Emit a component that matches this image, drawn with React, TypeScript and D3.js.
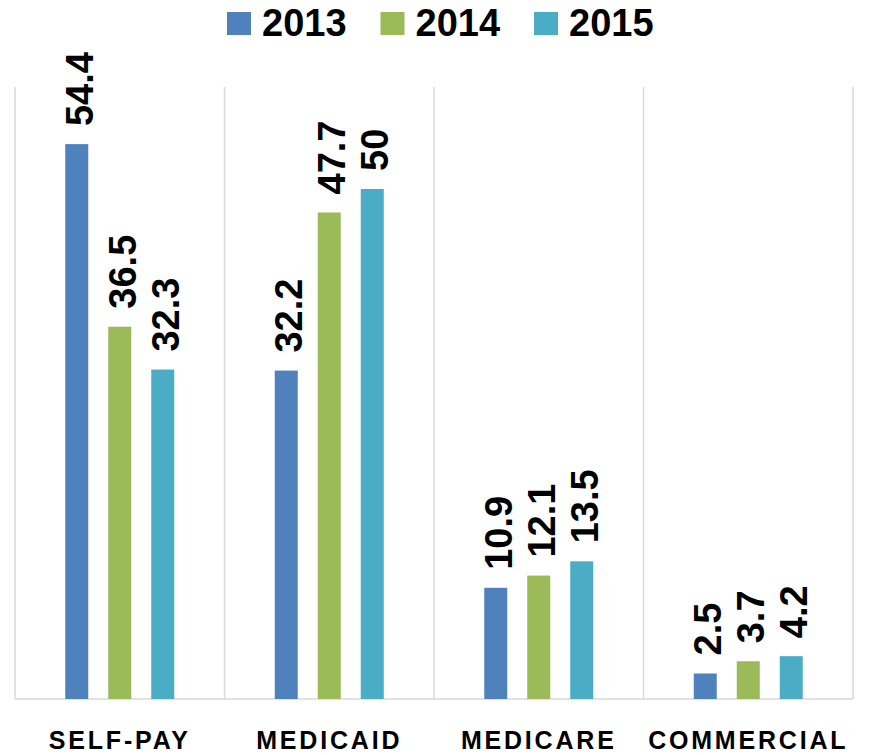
import React from "react";
import * as d3 from "d3";

const categories = ["SELF-PAY", "MEDICAID", "MEDICARE", "COMMERCIAL"];
const years = ["2013", "2014", "2015"];
const values2013 = [54.4, 32.2, 10.9, 2.5];
const values2014 = [36.5, 47.7, 12.1, 3.7];
const values2015 = [32.3, 50, 13.5, 4.2];
const colors = ["#4f81bd", "#9bbb59", "#4bacc6"];

const W = 872;
const H = 755;
const left = 15;
const right = 853;
const top = 87;
const baseline = 699;
const FONT = "'Liberation Sans', Arial, sans-serif";

export default function App() {
  const series = [values2013, values2014, values2015];
  const x0 = d3.scaleBand<string>().domain(categories).range([left, right]).padding(0);
  const x1 = d3.scalePoint<string>().domain(years).range([-43, 43]);
  const y = d3.scaleLinear().domain([0, 60]).range([baseline, top]);
  const barW = 23;
  const gridXs = [...categories.map((c) => x0(c)!), right];

  return (
    <svg width={W} height={H} style={{ position: "absolute", left: 0, top: 0, background: "#fff" }}>
      <rect x={0} y={0} width={W} height={H} fill="#fff" />
      {gridXs.map((gx, i) => (
        <line key={i} x1={gx} x2={gx} y1={top} y2={baseline} stroke="#d9d9d9" strokeWidth={1.5} />
      ))}
      <line x1={left} x2={right} y1={baseline} y2={baseline} stroke="#d9d9d9" strokeWidth={1.5} />
      {categories.map((c, ci) => {
        const center = x0(c)! + x0.bandwidth() / 2;
        return (
          <g key={c}>
            {years.map((yr, si) => {
              const v = series[si][ci];
              const cx = center + x1(yr)!;
              const yt = y(v);
              return (
                <g key={yr}>
                  <rect x={cx - barW / 2} y={yt} width={barW} height={baseline - yt} fill={colors[si]} />
                  <text
                    transform={`translate(${cx + 16},${yt - 18}) rotate(-90)`}
                    fontFamily={FONT}
                    fontWeight="bold"
                    fontSize={38}
                    fill="#000"
                  >
                    {String(v)}
                  </text>
                </g>
              );
            })}
            <text
              x={center}
              y={749}
              textAnchor="middle"
              fontFamily={FONT}
              fontWeight="bold"
              fontSize={25}
              letterSpacing={2.8}
              fill="#000"
            >
              {c}
            </text>
          </g>
        );
      })}
      {years.map((yr, i) => {
        const lx = 227 + i * 153.5;
        return (
          <g key={yr}>
            <rect x={lx} y={12} width={24} height={23} fill={colors[i]} />
            <text x={lx + 35} y={36} fontFamily={FONT} fontWeight="bold" fontSize={38} fill="#000">
              {yr}
            </text>
          </g>
        );
      })}
    </svg>
  );
}
